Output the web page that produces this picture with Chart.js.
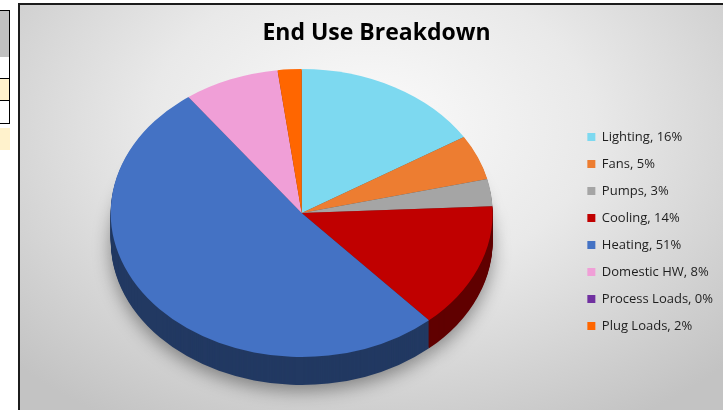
<!DOCTYPE html>
<html>
<head>
<meta charset="utf-8">
<script src="https://cdn.jsdelivr.net/npm/chart.js@4.4.1/dist/chart.umd.min.js"></script>
<style>
  html,body{margin:0;padding:0;background:#fff;}
  body{width:723px;height:410px;position:relative;overflow:hidden;}
  .cell{position:absolute;left:0;width:9px;border-right:1px solid #000;border-bottom:1px solid #000;}
  #box{position:absolute;left:18px;top:3px;width:705px;height:407px;box-sizing:border-box;
    border-left:2px solid #1c1c1c;border-top:2px solid #1c1c1c;
    background:radial-gradient(ellipse 70% 85% at 50% 30%, #fbfbfb 0%, #e9e9e9 45%, #c3c3c3 100%);}
  #chart{position:absolute;left:0;top:0;}
</style>
</head>
<body>
<!-- bit of the spreadsheet showing left of the chart -->
<div class="cell" style="top:10px;height:46px;background:#c0c0c0;border-top:1px solid #000"></div>
<div class="cell" style="top:57px;height:21px;background:#fff"></div>
<div class="cell" style="top:79px;height:21px;background:#fff2cc"></div>
<div class="cell" style="top:101px;height:22px;background:#fff"></div>
<div style="position:absolute;left:0;top:128px;width:10px;height:22px;background:#fff2cc"></div>

<div id="box"><canvas id="chart" width="703" height="405"></canvas></div>

<script>
const categories = ['Lighting','Fans','Pumps','Cooling','Heating','Domestic HW','Process Loads','Plug Loads'];
const shares = [16,5,3,14,51,8,0,2];
const colors = ['#7dd9f0','#ed7d31','#a5a5a5','#c00000','#4472c4','#f09fd7','#7030a0','#ff6600'];

const TILT = 0.754;   // ry/rx of the tilted top face
const DEPTH = 28;     // thickness of the pie side in px

function shade(hex, f){
  const n=parseInt(hex.slice(1),16);
  return 'rgb('+Math.round(((n>>16)&255)*f)+','+Math.round(((n>>8)&255)*f)+','+Math.round((n&255)*f)+')';
}

// squash the library's circle into the tilted ellipse, sitting at the top of the chart area
function ellipseTransform(chart, ctx, arc){
  const a=chart.chartArea, r=arc.outerRadius;
  const rx=(a.height-DEPTH)/(2*TILT), ry=rx*TILT;
  ctx.translate(arc.x, a.top+ry);
  ctx.scale(rx/r, ry/r);
  ctx.translate(-arc.x, -arc.y);
}

const tiltPlugin = {
  id:'tilt',
  beforeDatasetsDraw(chart){
    const ctx=chart.ctx;
    const arcs=chart.getDatasetMeta(0).data;
    const p0=arcs[0];
    // side of the pie: same slices, darker, stacked downwards
    for(let d=DEPTH; d>=1; d--){
      ctx.save();
      ctx.translate(0,d);
      ellipseTransform(chart, ctx, p0);
      if(d===DEPTH){ ctx.shadowColor='rgba(0,0,0,0.4)'; ctx.shadowBlur=18; ctx.shadowOffsetY=6; }
      arcs.forEach((arc,i)=>{
        if(arc.endAngle-arc.startAngle<=0) return;
        ctx.beginPath();
        ctx.moveTo(arc.x,arc.y);
        ctx.arc(arc.x,arc.y,arc.outerRadius,arc.startAngle,arc.endAngle);
        ctx.closePath();
        ctx.fillStyle=shade(colors[i],0.5);
        ctx.fill();
      });
      ctx.restore();
    }
    ctx.save();
    ellipseTransform(chart, ctx, p0);
  },
  afterDatasetsDraw(chart){ chart.ctx.restore(); }
};

new Chart(document.getElementById('chart'), {
  type:'pie',
  data:{
    labels:categories.map((c,i)=>c+', '+shares[i]+'%'),
    datasets:[{data:shares,backgroundColor:colors,borderWidth:0,hoverOffset:0,clip:false}]
  },
  options:{
    responsive:false, animation:false, devicePixelRatio:1,
    layout:{padding:{left:10,right:0,top:0,bottom:25}},
    plugins:{
      title:{display:true,text:'End Use Breakdown',color:'#000',
        font:{family:'Open Sans',size:23,weight:'bold',lineHeight:1.2},padding:{top:15,bottom:21.4}},
      legend:{position:'right',fullSize:false,
        title:{display:true,text:'',padding:{top:9,bottom:0},font:{size:13,lineHeight:0}},
        labels:{boxWidth:8,boxHeight:8,padding:14,color:'#1e1e1e',font:{family:'Open Sans',size:13}}},
      tooltip:{enabled:false}
    }
  },
  plugins:[tiltPlugin]
});
</script>
</body>
</html>
